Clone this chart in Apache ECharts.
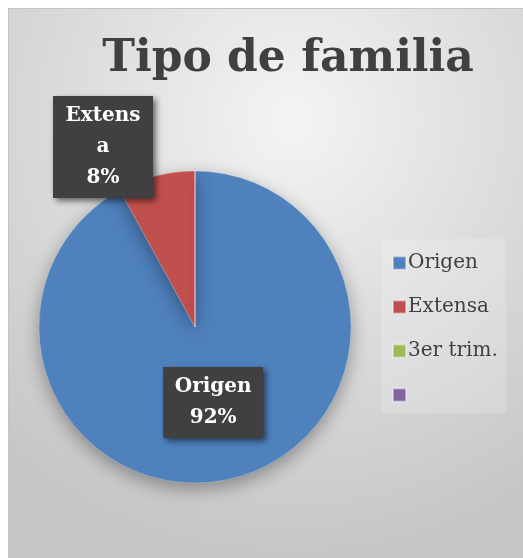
<!DOCTYPE html>
<html>
<head>
<meta charset="utf-8">
<script src="https://cdn.jsdelivr.net/npm/echarts@6/dist/echarts.min.js"></script>
<style>
  html, body { margin: 0; padding: 0; background: #ffffff; }
  #chart {
    position: absolute; left: 8px; top: 8px;
    width: 515px; height: 550px;
    border-top: 1px solid #c4c4c4; border-left: 1px solid #c4c4c4;
  }
</style>
</head>
<body>
<div id="chart"></div>
<script>
// datos
var categorias = ['Origen', 'Extensa', '3er trim.', ' '];
var valores = [92, 8, 0, 0];
var colores = ['#4F81BD', '#C0504D', '#9BBB59', '#8064A2'];

var PIE_CX = 186, PIE_CY = 318, PIE_R = 156;
var SERIF = '"DejaVu Serif", "Liberation Serif", serif';

var myChart = echarts.init(document.getElementById('chart'));

var datos = categorias.map(function (c, i) {
  return {
    name: c,
    value: valores[i],
    label: { show: valores[i] > 0 }
  };
});

var option = {
  backgroundColor: {
    type: 'radial', x: 0.55, y: 0.2, r: 0.85,
    colorStops: [
      { offset: 0, color: '#f4f4f4' },
      { offset: 0.55, color: '#dadada' },
      { offset: 1, color: '#c6c6c6' }
    ]
  },
  color: colores,
  title: {
    text: 'Tipo de familia',
    left: 274, top: 24,
    textAlign: 'center',
    textStyle: { fontFamily: SERIF, fontWeight: 'bold', fontSize: 44, color: '#404040' }
  },
  legend: {
    orient: 'vertical',
    left: 372, top: 230,
    padding: [14, 8, 8, 11],
    backgroundColor: 'rgba(255,255,255,0.18)',
    itemWidth: 13, itemHeight: 13,
    itemGap: 24,
    icon: 'rect',
    textStyle: { fontFamily: SERIF, fontSize: 20, color: '#404040', padding: [0, 0, 0, -3] }
  },
  series: [{
    type: 'pie',
    center: [PIE_CX, PIE_CY],
    radius: PIE_R,
    startAngle: 90,
    clockwise: true,
    itemStyle: {
      borderColor: 'rgba(255,255,255,0.4)', borderWidth: 0.5,
      shadowBlur: 18, shadowColor: 'rgba(0,0,0,0.35)', shadowOffsetY: 6
    },
    label: {
      show: true,
      position: 'inside',
      formatter: '{b}\n{d}%',
      fontFamily: SERIF, fontWeight: 'bold', fontSize: 20,
      color: '#ffffff',
      lineHeight: 31,
      width: 80,
      overflow: 'breakAll',
      align: 'center',
      backgroundColor: '#404040',
      padding: [5, 10, 4, 10],
      shadowBlur: 6, shadowColor: 'rgba(0,0,0,0.55)', shadowOffsetX: 3, shadowOffsetY: 3
    },
    labelLine: { show: false },
    labelLayout: function (p) {
      if (p.dataIndex === 0) {
        return { dx: -2, dy: -3 };
      }
      if (p.dataIndex === 1) {
        return { x: PIE_CX - 92, y: PIE_CY - 180, align: 'center', verticalAlign: 'middle' };
      }
      return {};
    },
    emphasis: { scale: false },
    data: datos
  }]
};

myChart.setOption(option);
</script>
</body>
</html>
